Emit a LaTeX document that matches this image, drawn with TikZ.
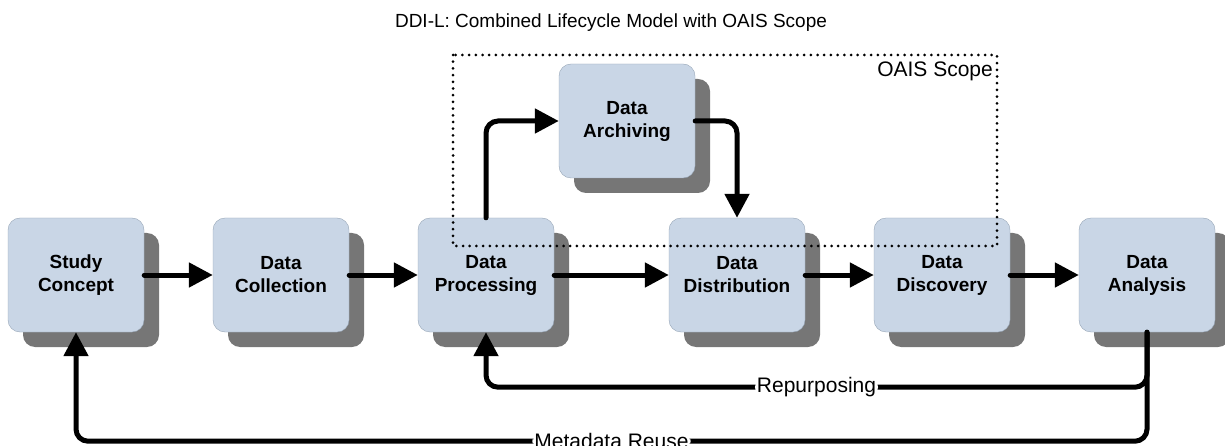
\documentclass[tikz,border=0pt]{standalone}
\usepackage{fontspec}
\setmainfont{Liberation Sans}
\usetikzlibrary{shadows, arrows.meta}
\definecolor{stagefill}{RGB}{201,214,230}
\definecolor{stageline}{RGB}{150,165,182}
\definecolor{shadowgray}{RGB}{118,118,118}
\tikzstyle{stage} = [draw=stageline, fill=stagefill, rounded corners=12pt, minimum width=136pt, minimum height=114pt, align=center, font=\fontsize{19}{23}\selectfont\bfseries, drop shadow={shadow xshift=15pt, shadow yshift=-15pt, fill=shadowgray, opacity=1}]
\tikzstyle{flow} = [line width=5pt, line cap=round, rounded corners=12pt, -{Triangle[length=24pt,width=24pt]}]
\tikzstyle{looplabel} = [fill=white, inner sep=2pt, font=\fontsize{21}{25}\selectfont]
\tikzstyle{scopeline} = [line width=3pt, line cap=round, dash pattern=on 0pt off 6.7pt]

\begin{document}
\begin{tikzpicture}[x=1pt, y=-1pt]
      \useasboundingbox (0,0) rectangle (1225,446);
      \clip (0,0) rectangle (1225,446);

      % Title
      \node[anchor=base, font=\fontsize{19}{23}\selectfont] (title) at (611,28) {DDI-L: Combined Lifecycle Model with OAIS Scope};

      % Stages
      \node[stage] (study) at (76,275) {Study\\Concept};
      \node[stage] (collect) at (281,275) {Data\\Collection};
      \node[stage] (process) at (486,275) {Data\\Processing};
      \node[stage] (archive) at (627,121) {Data\\Archiving};
      \node[stage] (distrib) at (737,275) {Data\\Distribution};
      \node[stage] (discover) at (942,275) {Data\\Discovery};
      \node[stage] (analyse) at (1147,275) {Data\\Analysis};

      % Main flow
      \draw[flow] (study) -- (collect);
      \draw[flow] (collect) -- (process);
      \draw[flow] (process) -- (distrib);
      \draw[flow] (distrib) -- (discover);
      \draw[flow] (discover) -- (analyse);
      \draw[flow] (process.north) |- (archive);
      \draw[flow] (archive) -| (distrib);

      % Loops back
      \draw[flow] (analyse.south) -- ++(0,55) -| node[pos=0.25, looplabel] {Repurposing} (process.south);
      \draw[flow] (analyse.south) -- ++(0,109) -| node[pos=0.25, looplabel] {Metadata Reuse} (study.south);

      % OAIS scope
      \draw[scopeline] (453,55) rectangle (997,246);
      \node[anchor=base east, inner sep=0pt, font=\fontsize{21}{25}\selectfont] (scopename) at (993,77) {OAIS Scope};
  \end{tikzpicture}
\end{document}
